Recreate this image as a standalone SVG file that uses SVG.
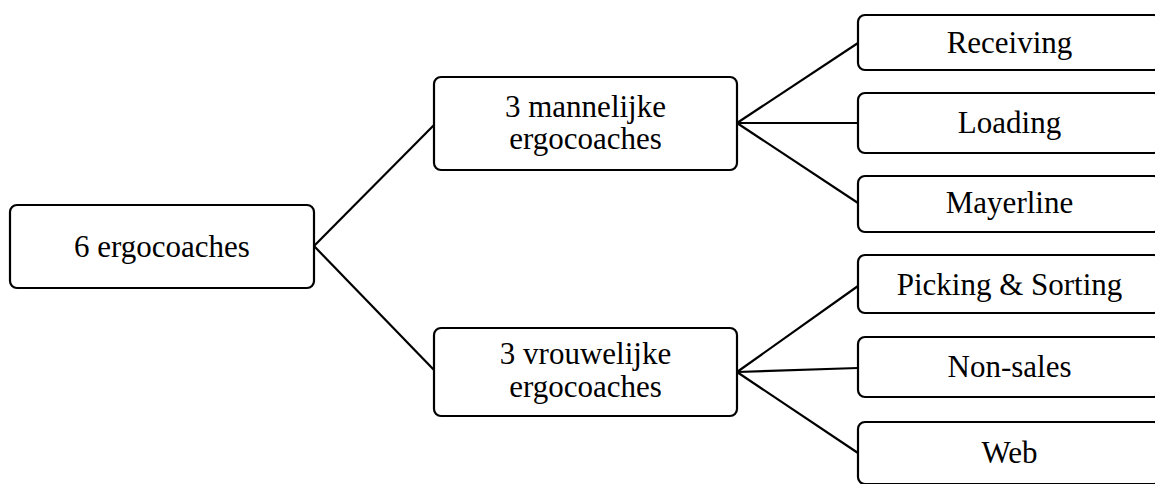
<svg xmlns="http://www.w3.org/2000/svg" width="1155" height="484" viewBox="0 0 1155 484">
<style>
.box{fill:#fff;stroke:#000;stroke-width:2.2}
.t{font-size:31px;fill:#000;text-anchor:middle}
.c line{stroke:#000;stroke-width:2.2}
</style>
<rect width="1155" height="484" fill="#fff"/>
<g class="c" id="connectors">
<line x1="314" y1="246" x2="434" y2="125"/>
<line x1="314" y1="246" x2="434" y2="370"/>
<line x1="737" y1="123" x2="858" y2="43"/>
<line x1="737" y1="123" x2="858" y2="123"/>
<line x1="737" y1="123" x2="858" y2="203"/>
<line x1="737" y1="372" x2="858" y2="286"/>
<line x1="737" y1="372" x2="858" y2="368"/>
<line x1="737" y1="372" x2="858" y2="453"/>
</g>
<g font-family="'Liberation Serif', 'DejaVu Serif', serif">
<g id="root"><rect class="box" x="10" y="205" width="304" height="83" rx="7"/><text class="t" x="162" y="257">6 ergocoaches</text></g>
<g id="men"><rect class="box" x="434" y="77" width="303" height="93" rx="7"/><text class="t" x="585.5" y="117">3 mannelijke</text><text class="t" x="585.5" y="149">ergocoaches</text></g>
<g id="women"><rect class="box" x="434" y="328" width="303" height="88" rx="7"/><text class="t" x="585.5" y="364">3 vrouwelijke</text><text class="t" x="585.5" y="397">ergocoaches</text></g>
<g id="receiving"><rect class="box" x="858" y="15" width="303" height="55" rx="7"/><text class="t" x="1009.5" y="53">Receiving</text></g>
<g id="loading"><rect class="box" x="858" y="93" width="303" height="60" rx="7"/><text class="t" x="1009.5" y="133">Loading</text></g>
<g id="mayerline"><rect class="box" x="858" y="176" width="303" height="56" rx="7"/><text class="t" x="1009.5" y="213">Mayerline</text></g>
<g id="picking"><rect class="box" x="858" y="255" width="303" height="58" rx="7"/><text class="t" x="1009.5" y="295">Picking &amp; Sorting</text></g>
<g id="nonsales"><rect class="box" x="858" y="337" width="303" height="60" rx="7"/><text class="t" x="1009.5" y="377">Non-sales</text></g>
<g id="web"><rect class="box" x="858" y="422" width="303" height="62" rx="7"/><text class="t" x="1009.5" y="463">Web</text></g>
</g>
</svg>
